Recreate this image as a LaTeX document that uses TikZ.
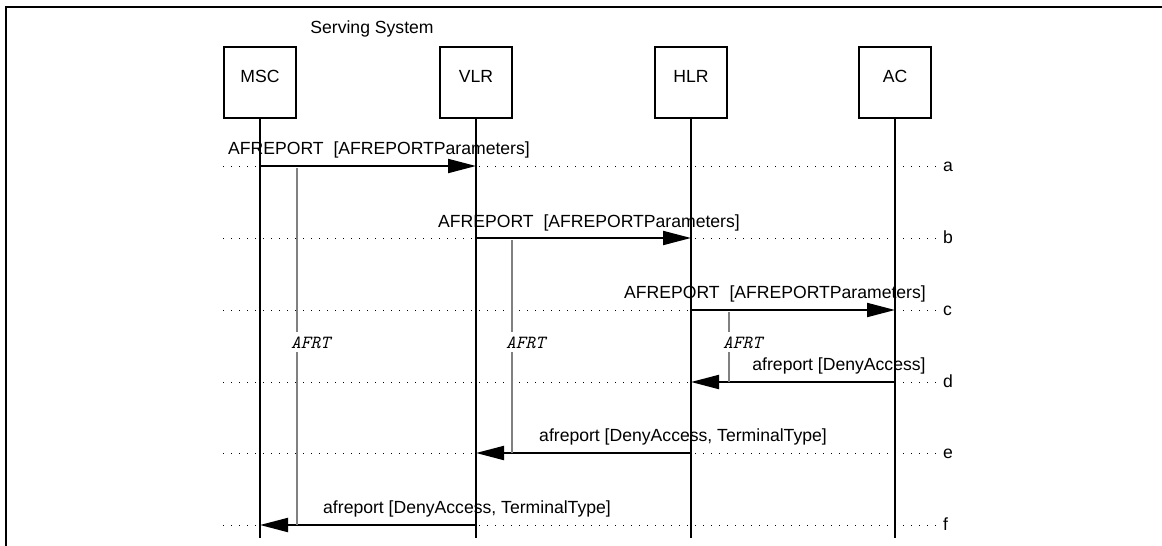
\documentclass[tikz,border=0pt]{standalone}
\usepackage{fontspec}
\setmainfont{Liberation Sans}
\usetikzlibrary{arrows.meta}
\begin{document}
\begin{tikzpicture}[x=1pt,y=-1pt,
  every node/.style={font=\fontsize{17.6}{20}\selectfont, inner sep=0pt},
  entity/.style={draw, line width=2pt, minimum width=72pt, minimum height=71pt},
  life/.style={line width=2pt},
  msg/.style={line width=2pt, -{Triangle[length=28pt,width=14pt]}},
  rowline/.style={line width=0.9pt, dash pattern=on 0.9pt off 7.1pt},
  timer/.style={line width=2pt, black!50},
  timerlbl/.style={font=\fontsize{18.5}{20}\selectfont\ttfamily\itshape, anchor=base west, inner xsep=0pt, inner ysep=4pt},
  lbl/.style={anchor=base},
]
\useasboundingbox (0,0) rectangle (1162,546);
% frame
\draw[line width=2.5pt] (1162,7) -- (6,7) -- (6,546);

\node[lbl] (ss) at (372,34) {Serving System};

% named points on the lifelines
\foreach \n/\x in {msc/260, vlr/476, hlr/691, ac/895}{
  \foreach \r/\y in {a/166,b/238,c/310,d/382,e/453,f/525}{
    \coordinate (\n-\r) at (\x,\y);
  }
}

% dotted rows
\foreach \r/\y in {a/166,b/238,c/310,d/382,e/453,f/525}{
  \coordinate (L-\r) at (223,\y);
  \coordinate (R-\r) at (937,\y);
  \draw[rowline] (L-\r) -- (R-\r);
  \node[anchor=base west] (lab-\r) at (943,{\y+5}) {\r};
}

% entities
\foreach \n/\x/\t in {msc/260/MSC, vlr/476/VLR, hlr/691/HLR, ac/895/AC}{
  \node[entity] (\n) at (\x,82.5) {};
  \node[lbl] (\n-t) at (\x,82) {\t};
  \coordinate (\n-end) at (\x,538);
  \draw[life] (\n.south) -- (\n-end);
}

% messages
\draw[msg] (msc-a) -- (vlr-a);
\node[lbl] (ma) at (379,154) {AFREPORT\ \ [AFREPORTParameters]};
\draw[msg] (vlr-b) -- (hlr-b);
\node[lbl] (mb) at (589,227) {AFREPORT\ \ [AFREPORTParameters]};
\draw[msg] (hlr-c) -- (ac-c);
\node[lbl] (mc) at (775,298) {AFREPORT\ \ [AFREPORTParameters]};
\draw[msg] (ac-d) -- (hlr-d);
\node[lbl] (md) at (839,370) {afreport [DenyAccess]};
\draw[msg] (hlr-e) -- (vlr-e);
\node[lbl] (me) at (683,441) {afreport [DenyAccess, TerminalType]};
\draw[msg] (vlr-f) -- (msc-f);
\node[lbl] (mf) at (467,513) {afreport [DenyAccess, TerminalType]};

% timers
\foreach \i/\x/\s/\e in {1/297/168/525, 2/512/240/453, 3/729/312/382}{
  \coordinate (t\i s) at (\x,\s);
  \coordinate (t\i e) at (\x,\e);
  \node[timerlbl] (t\i l) at ({\x-6},348) {AFRT};
  \draw[timer] (t\i s) -- (t\i l.north -| t\i s);
  \draw[timer] (t\i l.south -| t\i s) -- (t\i e);
}
\end{tikzpicture}
\end{document}
